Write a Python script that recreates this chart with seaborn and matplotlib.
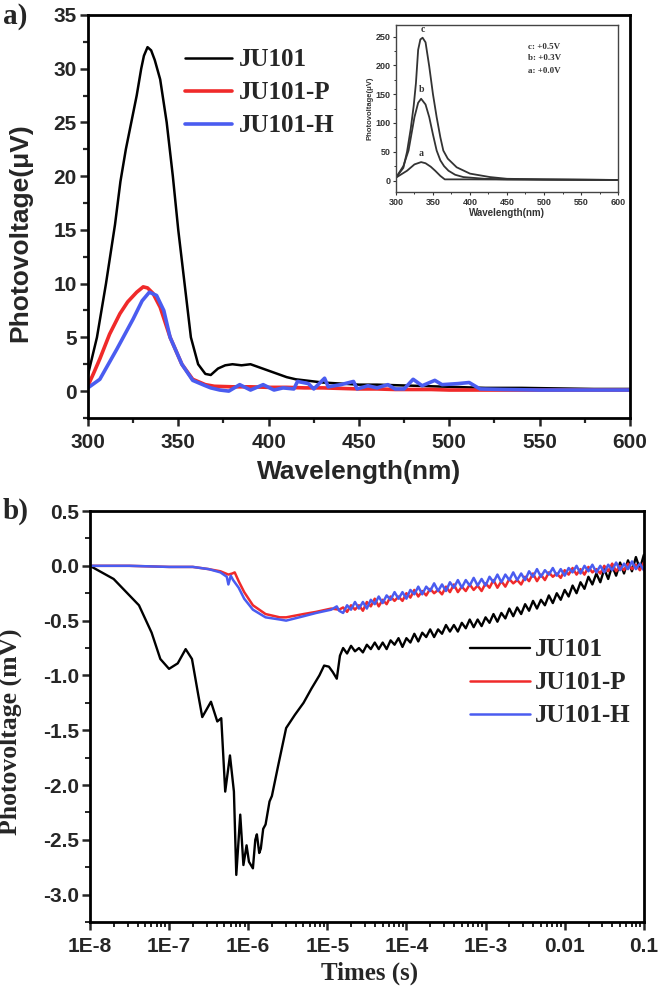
import numpy as np
import matplotlib
matplotlib.use("Agg")
import matplotlib.pyplot as plt
import seaborn as sns
from matplotlib.ticker import MultipleLocator, FixedLocator, FixedFormatter, LogLocator, NullFormatter, FormatStrFormatter

# ---- panel a: SPV spectra ----
wl_k = [300, 305, 310, 315, 318, 321, 324, 327, 329.5, 331,
        333, 335, 337, 340, 343.6, 347, 350, 353.5, 357, 361,
        365, 368, 372, 376, 380, 385, 390, 395, 400, 405,
        410, 415, 420, 425, 430, 440, 450, 460, 470, 480,
        490, 500, 520, 540, 560, 580, 600]
spv_ju101 = [1.5, 5, 10, 15.5, 19.5, 22.5, 25, 27.5, 30, 31.2,
             32, 31.7, 30.8, 29, 25, 20, 15, 10, 5, 2.5,
             1.6, 1.5, 2.1, 2.4, 2.5, 2.4, 2.5, 2.2, 1.9, 1.6,
             1.3, 1.1, 1.0, 0.9, 0.8, 0.7, 0.6, 0.6, 0.55, 0.5,
             0.45, 0.4, 0.3, 0.3, 0.25, 0.2, 0.2]
wl_p = [300, 303, 306.6, 312, 317.7, 322, 327, 330.6, 333, 336,
        340, 345.5, 352, 358, 365, 370, 380, 390, 400, 410,
        420, 430, 440, 450, 460, 470, 480, 490, 500, 520,
        540, 560, 580, 600]
spv_ju101p = [0.5, 1.6, 3.0, 5.3, 7.2, 8.3, 9.2, 9.7, 9.6, 9.1,
              7.8, 5.0, 2.5, 1.1, 0.6, 0.45, 0.4, 0.4, 0.35, 0.35,
              0.3, 0.3, 0.25, 0.2, 0.2, 0.15, 0.15, 0.15, 0.1, 0.1,
              0.1, 0.1, 0.1, 0.1]
wl_h = [300, 306.6, 316, 325, 330, 334, 338, 342, 345.5, 352,
        358, 365, 368, 373, 378, 384, 390, 397, 403, 408,
        414, 416, 422, 425, 431, 433, 440, 447, 449, 455,
        460, 466, 470, 475, 480, 485, 492, 496, 505, 511,
        517, 530, 550, 575, 600]
spv_ju101h = [0.3, 1.1, 3.9, 6.7, 8.4, 9.2, 8.9, 7.5, 5.0, 2.5,
              1.0, 0.5, 0.3, 0.1, 0.0, 0.6, 0.1, 0.6, 0.1, 0.3,
              0.2, 0.9, 0.7, 0.2, 1.2, 0.4, 0.6, 0.9, 0.2, 0.5,
              0.3, 0.6, 0.2, 0.2, 1.1, 0.5, 1.0, 0.6, 0.7, 0.8,
              0.2, 0.15, 0.1, 0.1, 0.1]

# inset: JU101 under bias
inset_a_wl = [300, 305, 315, 325, 334, 340, 347, 353, 360, 366, 400, 500, 600]
inset_a = [5, 9, 17, 28, 32, 30, 24, 17, 8, 2, 2, 1.5, 1]
inset_b_wl = [300, 310, 317, 325, 330, 334, 340, 345, 350, 355, 360, 365, 371, 380, 391, 420, 450, 600]
inset_b = [5, 25, 52, 110, 135, 142, 132, 110, 80, 52, 35, 25, 17, 10, 6, 3, 2, 1]
inset_c_wl = [300, 310, 315, 320, 324, 327, 330, 333, 336, 340, 345, 350, 355, 360, 364,
              370, 382, 400, 427, 450, 500, 600]
inset_c = [5, 22, 50, 90, 130, 169, 227, 245, 248, 240, 198, 150, 110, 75, 52,
           38, 23, 12, 6, 3, 2, 1]

# ---- panel b: transient photovoltage, time as log10(s) ----
head_k = [-8.0, -7.70, -7.38, -7.22, -7.11, -7.0, -6.89, -6.79, -6.71, -6.63,
          -6.58, -6.47, -6.39, -6.34, -6.29, -6.23, -6.18, -6.15, -6.10, -6.06,
          -6.02, -5.99, -5.94, -5.91, -5.89, -5.86, -5.84, -5.81, -5.78, -5.73,
          -5.70, -5.62, -5.52, -5.41, -5.30, -5.20, -5.10, -5.04, -4.98, -4.93,
          -4.88, -4.84]
head_k_val = [0, -0.12, -0.36, -0.61, -0.85, -0.94, -0.89, -0.76, -0.85, -1.18,
              -1.38, -1.24, -1.42, -1.39, -2.06, -1.73, -2.06, -2.82, -2.27, -2.73,
              -2.55, -2.70, -2.76, -2.50, -2.45, -2.62, -2.58, -2.40, -2.36, -2.15,
              -2.10, -1.82, -1.48, -1.36, -1.25, -1.12, -1.00, -0.91, -0.92, -0.97,
              -1.03, -0.82]
head_p = [-8.0, -7.5, -7.0, -6.7, -6.5, -6.35, -6.25, -6.2, -6.17, -6.12,
          -6.05, -5.94, -5.78, -5.6, -5.52, -5.3, -5.14, -4.95, -4.85]
head_p_val = [0, 0.0, -0.01, -0.01, -0.03, -0.05, -0.08, -0.07, -0.06, -0.14,
              -0.24, -0.36, -0.44, -0.47, -0.47, -0.44, -0.42, -0.39, -0.40]
head_h = [-8.0, -7.5, -7.0, -6.7, -6.5, -6.35, -6.27, -6.25, -6.22, -6.19,
          -6.12, -6.05, -5.94, -5.78, -5.6, -5.52, -5.3, -5.14, -4.95, -4.88, -4.85]
head_h_val = [0, 0.0, -0.01, -0.01, -0.03, -0.06, -0.10, -0.17, -0.09, -0.13,
              -0.20, -0.30, -0.40, -0.47, -0.49, -0.50, -0.46, -0.43, -0.40, -0.37, -0.41]

tail = [-4.80, -4.75, -4.70, -4.65, -4.60, -4.55, -4.50, -4.45, -4.40, -4.35,
        -4.30, -4.25, -4.20, -4.15, -4.10, -4.05, -4.00, -3.95, -3.90, -3.85,
        -3.80, -3.75, -3.70, -3.65, -3.60, -3.55, -3.50, -3.45, -3.40, -3.35,
        -3.30, -3.25, -3.20, -3.15, -3.10, -3.05, -3.00, -2.95, -2.90, -2.85,
        -2.80, -2.75, -2.70, -2.65, -2.60, -2.55, -2.50, -2.45, -2.40, -2.35,
        -2.30, -2.25, -2.20, -2.15, -2.10, -2.05, -2.00, -1.95, -1.90, -1.85,
        -1.80, -1.75, -1.70, -1.65, -1.60, -1.55, -1.50, -1.45, -1.40, -1.35,
        -1.30, -1.25, -1.20, -1.15, -1.10, -1.05, -1.00]
tail_k = [-0.75, -0.80, -0.73, -0.78, -0.75, -0.79, -0.72, -0.76, -0.70, -0.76,
          -0.70, -0.76, -0.68, -0.72, -0.66, -0.74, -0.66, -0.70, -0.62, -0.69,
          -0.61, -0.65, -0.58, -0.65, -0.58, -0.62, -0.54, -0.60, -0.54, -0.60,
          -0.52, -0.57, -0.49, -0.56, -0.49, -0.55, -0.47, -0.52, -0.44, -0.51,
          -0.43, -0.48, -0.39, -0.46, -0.38, -0.44, -0.35, -0.41, -0.32, -0.39,
          -0.31, -0.36, -0.27, -0.34, -0.25, -0.31, -0.22, -0.28, -0.18, -0.25,
          -0.15, -0.21, -0.10, -0.17, -0.07, -0.15, -0.03, -0.12, 0.00, -0.09,
          0.03, -0.07, 0.05, -0.05, 0.08, -0.03, 0.10]
tail_p = [-0.38, -0.42, -0.36, -0.40, -0.36, -0.41, -0.33, -0.37, -0.30, -0.37,
          -0.31, -0.35, -0.28, -0.32, -0.28, -0.32, -0.25, -0.29, -0.22, -0.28,
          -0.23, -0.27, -0.21, -0.25, -0.22, -0.26, -0.19, -0.24, -0.17, -0.24,
          -0.19, -0.23, -0.17, -0.22, -0.18, -0.23, -0.16, -0.20, -0.13, -0.20,
          -0.14, -0.19, -0.12, -0.16, -0.13, -0.17, -0.10, -0.14, -0.07, -0.14,
          -0.08, -0.13, -0.06, -0.10, -0.07, -0.11, -0.04, -0.08, -0.02, -0.08,
          -0.03, -0.08, -0.01, -0.06, -0.03, -0.07, 0.00, -0.05, 0.02, -0.05,
          0.00, -0.04, 0.02, -0.03, 0.01, -0.04, 0.03]
tail_h = [-0.43, -0.36, -0.40, -0.33, -0.39, -0.33, -0.39, -0.31, -0.35, -0.28,
          -0.34, -0.27, -0.31, -0.24, -0.30, -0.24, -0.30, -0.22, -0.26, -0.19,
          -0.26, -0.19, -0.23, -0.16, -0.23, -0.17, -0.23, -0.15, -0.20, -0.13,
          -0.20, -0.13, -0.18, -0.11, -0.18, -0.12, -0.18, -0.10, -0.15, -0.08,
          -0.15, -0.08, -0.13, -0.06, -0.13, -0.07, -0.13, -0.05, -0.10, -0.03,
          -0.10, -0.04, -0.08, -0.02, -0.09, -0.03, -0.09, -0.02, -0.06, 0.00,
          -0.07, 0.00, -0.05, 0.01, -0.06, 0.00, -0.06, 0.01, -0.04, 0.03,
          -0.04, 0.02, -0.03, 0.04, -0.03, 0.02, -0.04]

labels = ['JU101', 'JU101-P', 'JU101-H']
colors = ['black', '#f02a2a', '#4a5cf0']
xticks_b = ['1E-8', '1E-7', '1E-6', '1E-5', '1E-4', '1E-3', '0.01', '0.1']

sns.set_style('ticks')
plt.rcParams['font.family'] = ['Liberation Sans', 'DejaVu Sans']
plt.rcParams['font.weight'] = 'bold'
plt.rcParams['axes.unicode_minus'] = False
sans = ['Liberation Sans', 'DejaVu Sans']
serif = ['Liberation Serif', 'DejaVu Serif']

fig = plt.figure(figsize=(6.61, 9.94), dpi=100)
ax1 = fig.add_axes([0.133, 0.5795, 0.820, 0.4055])
ax2 = fig.add_axes([0.136, 0.0724, 0.838, 0.4135])
axin = fig.add_axes([0.599, 0.8068, 0.336, 0.168])

# panel a
sns.lineplot(x=wl_k, y=spv_ju101, ax=ax1, color=colors[0], lw=1.8, label=labels[0])
sns.lineplot(x=wl_p, y=spv_ju101p, ax=ax1, color=colors[1], lw=2.6, label=labels[1])
sns.lineplot(x=wl_h, y=spv_ju101h, ax=ax1, color=colors[2], lw=2.6, label=labels[2])
ax1.set_xlim(300, 600)
ax1.set_ylim(-2.5, 35)
ax1.xaxis.set_major_locator(MultipleLocator(50))
ax1.xaxis.set_minor_locator(MultipleLocator(25))
ax1.yaxis.set_major_locator(MultipleLocator(5))
ax1.yaxis.set_minor_locator(MultipleLocator(2.5))
ax1.set_xlabel('Wavelength(nm)', fontsize=19, fontweight='bold', family=sans)
ax1.set_ylabel('Photovoltage(\u03bcV)', fontsize=19, fontweight='bold', family=sans)
ax1.xaxis.set_label_coords(0.50, -0.105)
ax1.yaxis.set_label_coords(-0.103, 0.46)
ax1.xaxis.label.set_va('top')
for lab in ax1.get_xticklabels() + ax1.get_yticklabels():
    lab.set_fontweight('bold')
ax1.tick_params(which='major', labelsize=15, length=6, width=1.8, direction='out')
ax1.tick_params(which='minor', length=3.5, width=1.6, direction='out')
ax1.tick_params(axis='x', pad=5)
ax1.tick_params(axis='y', pad=2)
ax1.legend(loc='upper left', bbox_to_anchor=(0.179, 0.917), frameon=False,
           borderpad=0, borderaxespad=0, handlelength=1.9, handletextpad=0.25,
           labelspacing=0.4, prop={'family': serif, 'weight': 'bold', 'size': 18})

# inset
for xs, ys in [(inset_a_wl, inset_a), (inset_b_wl, inset_b), (inset_c_wl, inset_c)]:
    sns.lineplot(x=xs, y=ys, ax=axin, color='#333333', lw=1.3)
axin.set_xlim(300, 600)
axin.set_ylim(-20, 270)
axin.xaxis.set_major_locator(MultipleLocator(50))
axin.xaxis.set_minor_locator(MultipleLocator(25))
axin.yaxis.set_major_locator(MultipleLocator(50))
axin.yaxis.set_minor_locator(MultipleLocator(25))
axin.tick_params(which='major', labelsize=6.5, length=2.5, width=0.8, pad=1.5, colors='#333333')
axin.tick_params(which='minor', length=1.5, width=0.7, colors='#333333')
axin.set_xlabel('Wavelength(nm)', fontsize=7, fontweight='bold', labelpad=1, color='#333333')
axin.set_ylabel('Photovoltage(\u03bcV)', fontsize=5.5, fontweight='bold', labelpad=1, color='#333333')
for lab in axin.get_xticklabels() + axin.get_yticklabels():
    lab.set_fontweight('bold')
for sp in axin.spines.values():
    sp.set_linewidth(1.0)
    sp.set_color('#444444')
axin.text(336, 255, 'c', fontsize=7, fontweight='bold', family=serif, ha='center', va='bottom', color='#333333')
axin.text(334, 150, 'b', fontsize=7, fontweight='bold', family=serif, ha='center', va='bottom', color='#333333')
axin.text(334, 39, 'a', fontsize=7, fontweight='bold', family=serif, ha='center', va='bottom', color='#333333')
for yy, s in [(232, 'c: +0.5V'), (212, 'b: +0.3V'), (191, 'a: +0.0V')]:
    axin.text(478, yy, s, fontsize=6.5, fontweight='bold', family=serif, ha='left', va='center', color='#333333')

# panel b
t_k = 10.0 ** np.array(head_k + tail)
t_p = 10.0 ** np.array(head_p + tail)
t_h = 10.0 ** np.array(head_h + tail)
ax2.set_xscale('log')
sns.lineplot(x=t_k, y=head_k_val + tail_k, ax=ax2, color=colors[0], lw=1.7, label=labels[0])
sns.lineplot(x=t_p, y=head_p_val + tail_p, ax=ax2, color=colors[1], lw=1.8, label=labels[1])
sns.lineplot(x=t_h, y=head_h_val + tail_h, ax=ax2, color=colors[2], lw=1.8, label=labels[2])
ax2.set_xlim(1e-8, 0.1)
ax2.set_ylim(-3.25, 0.5)
ax2.xaxis.set_major_locator(FixedLocator([1e-8, 1e-7, 1e-6, 1e-5, 1e-4, 1e-3, 1e-2, 1e-1]))
ax2.xaxis.set_major_formatter(FixedFormatter(xticks_b))
ax2.xaxis.set_minor_locator(LogLocator(base=10, subs=np.arange(2, 10), numticks=20))
ax2.xaxis.set_minor_formatter(NullFormatter())
ax2.yaxis.set_major_locator(MultipleLocator(0.5))
ax2.yaxis.set_minor_locator(MultipleLocator(0.25))
ax2.yaxis.set_major_formatter(FormatStrFormatter('%.1f'))
ax2.set_xlabel('Times (s)', fontsize=18, fontweight='bold', family=serif)
ax2.set_ylabel('Photovoltage (mV)', fontsize=18.5, fontweight='bold', family=serif)
ax2.xaxis.set_label_coords(0.505, -0.097)
ax2.xaxis.label.set_va('top')
ax2.yaxis.set_label_coords(-0.122, 0.462)
for lab in ax2.get_xticklabels() + ax2.get_yticklabels():
    lab.set_fontweight('bold')
ax2.tick_params(which='major', labelsize=15, length=6, width=1.8, direction='out')
ax2.tick_params(which='minor', length=3.5, width=1.4, direction='out')
ax2.tick_params(axis='x', pad=5)
ax2.tick_params(axis='y', pad=2)
ax2.legend(loc='upper left', bbox_to_anchor=(0.686, 0.69), frameon=False,
           borderpad=0, borderaxespad=0, handlelength=2.4, handletextpad=0.2,
           labelspacing=0.4, prop={'family': serif, 'weight': 'bold', 'size': 18})

for ax in (ax1, ax2):
    for sp in ax.spines.values():
        sp.set_linewidth(2.0)
        sp.set_color('black')

fig.text(0.004, 0.997, 'a)', fontsize=21, fontweight='bold', family=serif, va='top', ha='left')
fig.text(0.004, 0.499, 'b)', fontsize=21, fontweight='bold', family=serif, va='top', ha='left')

fig.savefig('out.png', dpi=100)
